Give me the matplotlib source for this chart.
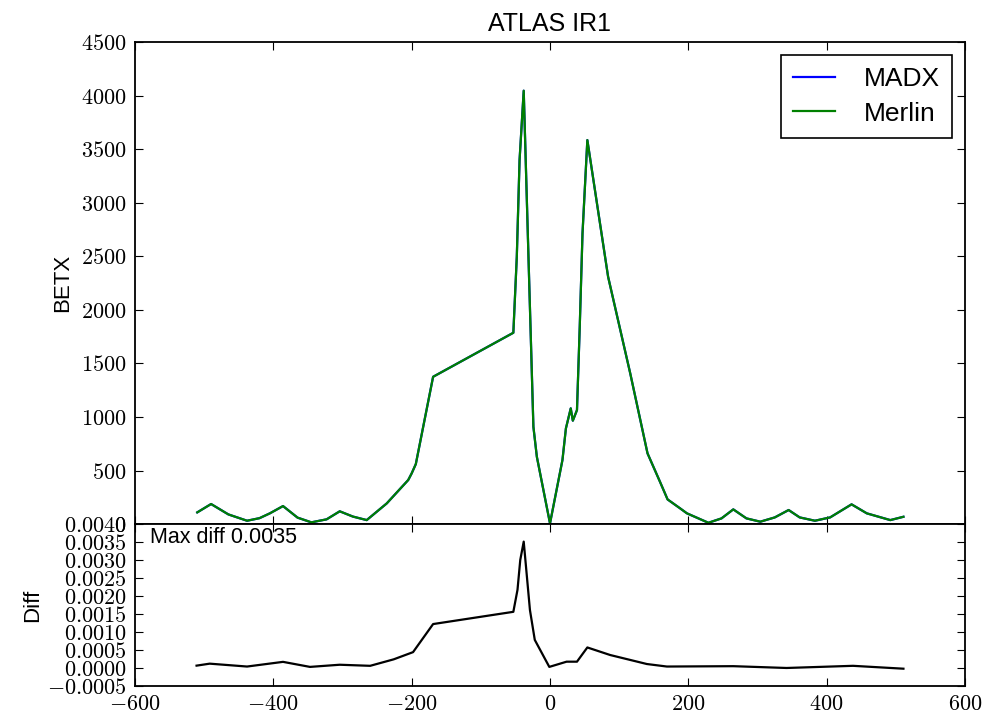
import matplotlib
matplotlib.use("Agg")
import matplotlib.pyplot as plt
from matplotlib.ticker import FuncFormatter

# beta function along s (MADX and Merlin lie on top of each other)
s_betx = [-510, -490, -465, -438, -420, -405, -386, -365, -345, -323, -304, -285, -265, -236,
          -205, -200, -194, -169, -53, -48, -44, -38, -31, -24, -19, 0, 18, 23, 30, 33, 39,
          43, 47, 54, 84, 116, 141, 159, 170, 188, 198, 229, 248, 265, 284, 304, 325, 345,
          361, 383, 405, 436, 458, 492, 511]
betx_madx = [109, 187, 90, 31, 55, 100, 168, 60, 16, 44, 119, 70, 37, 193,
             411, 473, 560, 1375, 1786, 2496, 3399, 4046, 2465, 908, 628, 6, 598, 893, 1080, 965, 1064,
             1842, 2714, 3585, 2309, 1407, 660, 395, 230, 147, 100, 12, 53, 137, 53, 22, 62, 131,
             62, 31, 62, 184, 100, 37, 68]
betx_merlin = list(betx_madx)

# difference between the two codes
s_diff = [-511, -492, -438, -410, -386, -347, -304, -260, -226, -198, -169, -53, -47, -43,
          -38, -29, -22, -1, 24, 39, 46, 54, 87, 140, 169, 265, 342, 438, 511]
diff = [0.000065, 0.00012, 0.00004, 0.00011, 0.00017, 0.00003, 0.00009, 0.00006, 0.00024,
        0.00044, 0.00122, 0.00156, 0.00217, 0.0030, 0.00351, 0.00161, 0.00078, 0.00003,
        0.000175, 0.000175, 0.00036, 0.00057, 0.00036, 0.00011, 0.00004, 0.00005, 0.0,
        0.00006, -0.00002]

top_yticks = [0, 500, 1000, 1500, 2000, 2500, 3000, 3500, 4000, 4500]
diff_yticks = [-0.0005, 0.0, 0.0005, 0.0010, 0.0015, 0.0020, 0.0025, 0.0030, 0.0035, 0.0040]
xticks = [-600, -400, -200, 0, 200, 400, 600]

plt.rcParams['font.family'] = ['Liberation Sans', 'DejaVu Sans']
plt.rcParams['mathtext.fontset'] = 'cm'


def int_fmt(v, pos):
    return "$%d$" % round(v)


def diff_fmt(v, pos):
    return "$%.4f$" % v


fig = plt.figure(figsize=(10, 7.13), dpi=100)
ax1 = fig.add_axes([0.135, 0.265, 0.83, 0.676])
ax2 = fig.add_axes([0.135, 0.0379, 0.83, 0.2272])

ax1.plot(s_betx, betx_madx, color='blue', lw=1.6, label='MADX')
ax1.plot(s_betx, betx_merlin, color=(0, 0.5, 0), lw=1.6, label='Merlin')
ax1.set_xlim(-600, 600)
ax1.set_ylim(0, 4500)
ax1.set_yticks(top_yticks)
ax1.set_xticks(xticks)
ax1.yaxis.set_major_formatter(FuncFormatter(int_fmt))
ax1.tick_params(labelbottom=False)
ax1.set_ylabel('BETX', fontsize=16, labelpad=6)
ax1.set_title('ATLAS IR1', fontsize=18, pad=8)
leg = ax1.legend(loc='upper right', fontsize=19, handlelength=1.6, handletextpad=1.1,
                 borderpad=0.45, labelspacing=0.4, fancybox=False, framealpha=1)
leg.get_frame().set_edgecolor('black')
leg.get_frame().set_linewidth(1.2)

ax2.plot(s_diff, diff, color='black', lw=1.6)
ax2.set_xlim(-600, 600)
ax2.set_ylim(-0.0005, 0.0040)
ax2.set_yticks(diff_yticks)
ax2.set_xticks(xticks)
ax2.yaxis.set_major_formatter(FuncFormatter(diff_fmt))
ax2.xaxis.set_major_formatter(FuncFormatter(int_fmt))
ax2.set_ylabel('Diff', fontsize=16, labelpad=3)
ax2.text(0.018, 0.98, 'Max diff %.4f' % max(diff), transform=ax2.transAxes,
         fontsize=15.5, va='top', ha='left')

for ax in (ax1, ax2):
    ax.tick_params(direction='in', top=True, right=True, length=6, width=0.8,
                   labelsize=16, pad=6)
    for sp in ax.spines.values():
        sp.set_linewidth(1.3)

fig.savefig('out.png', dpi=100, facecolor='white')
